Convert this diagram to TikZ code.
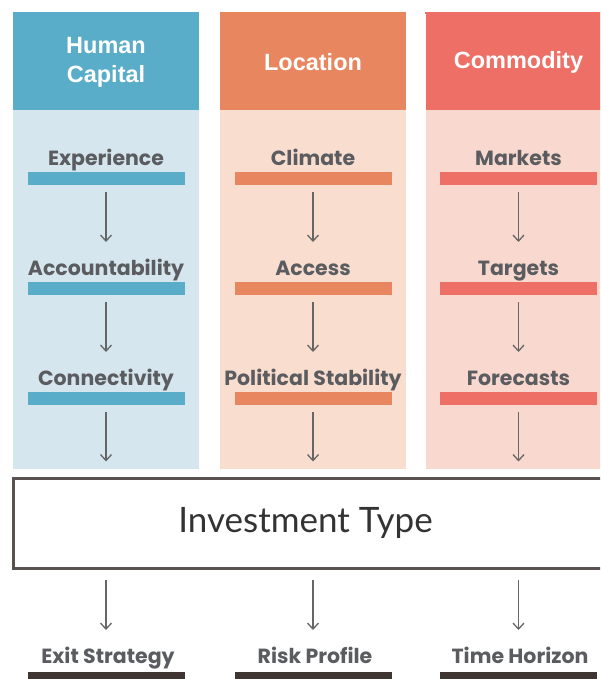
\documentclass[tikz,border=0pt]{standalone}
\usepackage{fontspec}
\setmainfont{Liberation Sans}
\newfontfamily\stagefont{Poppins}
\newfontfamily\typefont{Lato}
\usetikzlibrary{positioning,arrows.meta}
\definecolor{hcdark}{HTML}{5AADC8}
\definecolor{hclight}{HTML}{D6E6EE}
\definecolor{locdark}{HTML}{E8875F}
\definecolor{loclight}{HTML}{F9DDCF}
\definecolor{comdark}{HTML}{EE6F65}
\definecolor{comlight}{HTML}{F9D9CF}
\definecolor{stagegray}{HTML}{5A5C60}
\definecolor{boxgray}{HTML}{5A5250}
\definecolor{outbar}{HTML}{3F3532}
\begin{document}
\begin{tikzpicture}[x=1pt,y=-1pt,
  head/.style={fill=#1,text=white,font=\bfseries\fontsize{23.5}{29}\selectfont,
    align=center,minimum width=186pt,minimum height=96pt,inner sep=0pt},
  stage/.style={text=stagegray,font=\stagefont\bfseries\fontsize{20.5}{22}\selectfont,
    inner sep=0pt,anchor=base},
  bar/.style={fill=#1,minimum width=157pt,minimum height=13pt,inner sep=0pt},
  flow/.style={draw=gray!80!black,line width=1.3pt,
    -{Straight Barb[length=6pt,width=11pt]},shorten <=7pt,shorten >=33pt},
  intobox/.style={flow,shorten >=15pt}]
\clip (0,0) rectangle (600,679);
\fill[white] (0,0) rectangle (600,679);
% column backgrounds
\foreach \x/\lt in {106/hclight,313/loclight,518.5/comlight}
  \fill[\lt] (\x-93,108) rectangle (\x+93,469);
% headers
\node[head=hcdark]  (hc)  at (106,62)   {Human\\Capital};
\node[head=locdark] (loc) at (313,62)   {Location};
\node[head=comdark] (com) at (518.5,62) {Commodity};
\fill[hcdark]  (13,12) rectangle (199,14);
\fill[locdark] (220,12) rectangle (406,14);
\fill[comdark] (425,12) rectangle (612,14);
% human capital column
\node[stage] (exp)  at (106,165) {Experience};
\node[bar=hcdark] (expbar) at (106,178.5) {};
\node[stage] (acc)  at (106,275) {Accountability};
\node[bar=hcdark] (accbar) at (106,288.5) {};
\node[stage] (conn) at (106,385) {Connectivity};
\node[bar=hcdark] (connbar) at (106,398.5) {};
% location column
\node[stage] (clim)  at (313,165) {Climate};
\node[bar=locdark] (climbar) at (313,178.5) {};
\node[stage] (acs)   at (313,275) {Access};
\node[bar=locdark] (acsbar) at (313,288.5) {};
\node[stage] (pol)   at (313,385) {Political Stability};
\node[bar=locdark] (polbar) at (313,398.5) {};
% commodity column
\node[stage] (mkt)  at (518.5,165) {Markets};
\node[bar=comdark] (mktbar) at (518.5,178.5) {};
\node[stage] (tgt)  at (518.5,275) {Targets};
\node[bar=comdark] (tgtbar) at (518.5,288.5) {};
\node[stage] (fc)   at (518.5,385) {Forecasts};
\node[bar=comdark] (fcbar) at (518.5,398.5) {};
% investment type
\node[draw=boxgray,line width=3pt,fill=white,minimum width=599pt,minimum height=90pt,
  text=black!80,font=\typefont\fontsize{35}{40}\selectfont]
  (invest) at (312.5,523) {\hspace*{-14pt}Investment Type};
% outcomes
\node[stage] (exit) at (108,663) {Exit Strategy};
\node[bar=outbar] (exitbar) at (106,678) {};
\node[stage] (risk) at (315,663) {Risk Profile};
\node[bar=outbar] (riskbar) at (313,678) {};
\node[stage] (time) at (520,663) {Time Horizon};
\node[bar=outbar] (timebar) at (518.5,678) {};
% arrows
\draw[flow] (expbar) -- (acc.base);
\draw[flow] (accbar) -- (conn.base);
\draw[intobox] (connbar) -- (connbar|-invest.north);
\draw[flow] (climbar) -- (acs.base);
\draw[flow] (acsbar) -- (pol.base);
\draw[intobox] (polbar) -- (polbar|-invest.north);
\draw[flow] (mktbar) -- (tgt.base);
\draw[flow] (tgtbar) -- (fc.base);
\draw[intobox] (fcbar) -- (fcbar|-invest.north);
\draw[flow,shorten <=10pt] (exitbar|-invest.south) -- (exitbar|-exit.base);
\draw[flow,shorten <=10pt] (riskbar|-invest.south) -- (riskbar|-risk.base);
\draw[flow,shorten <=10pt] (timebar|-invest.south) -- (timebar|-time.base);
\end{tikzpicture}
\end{document}
